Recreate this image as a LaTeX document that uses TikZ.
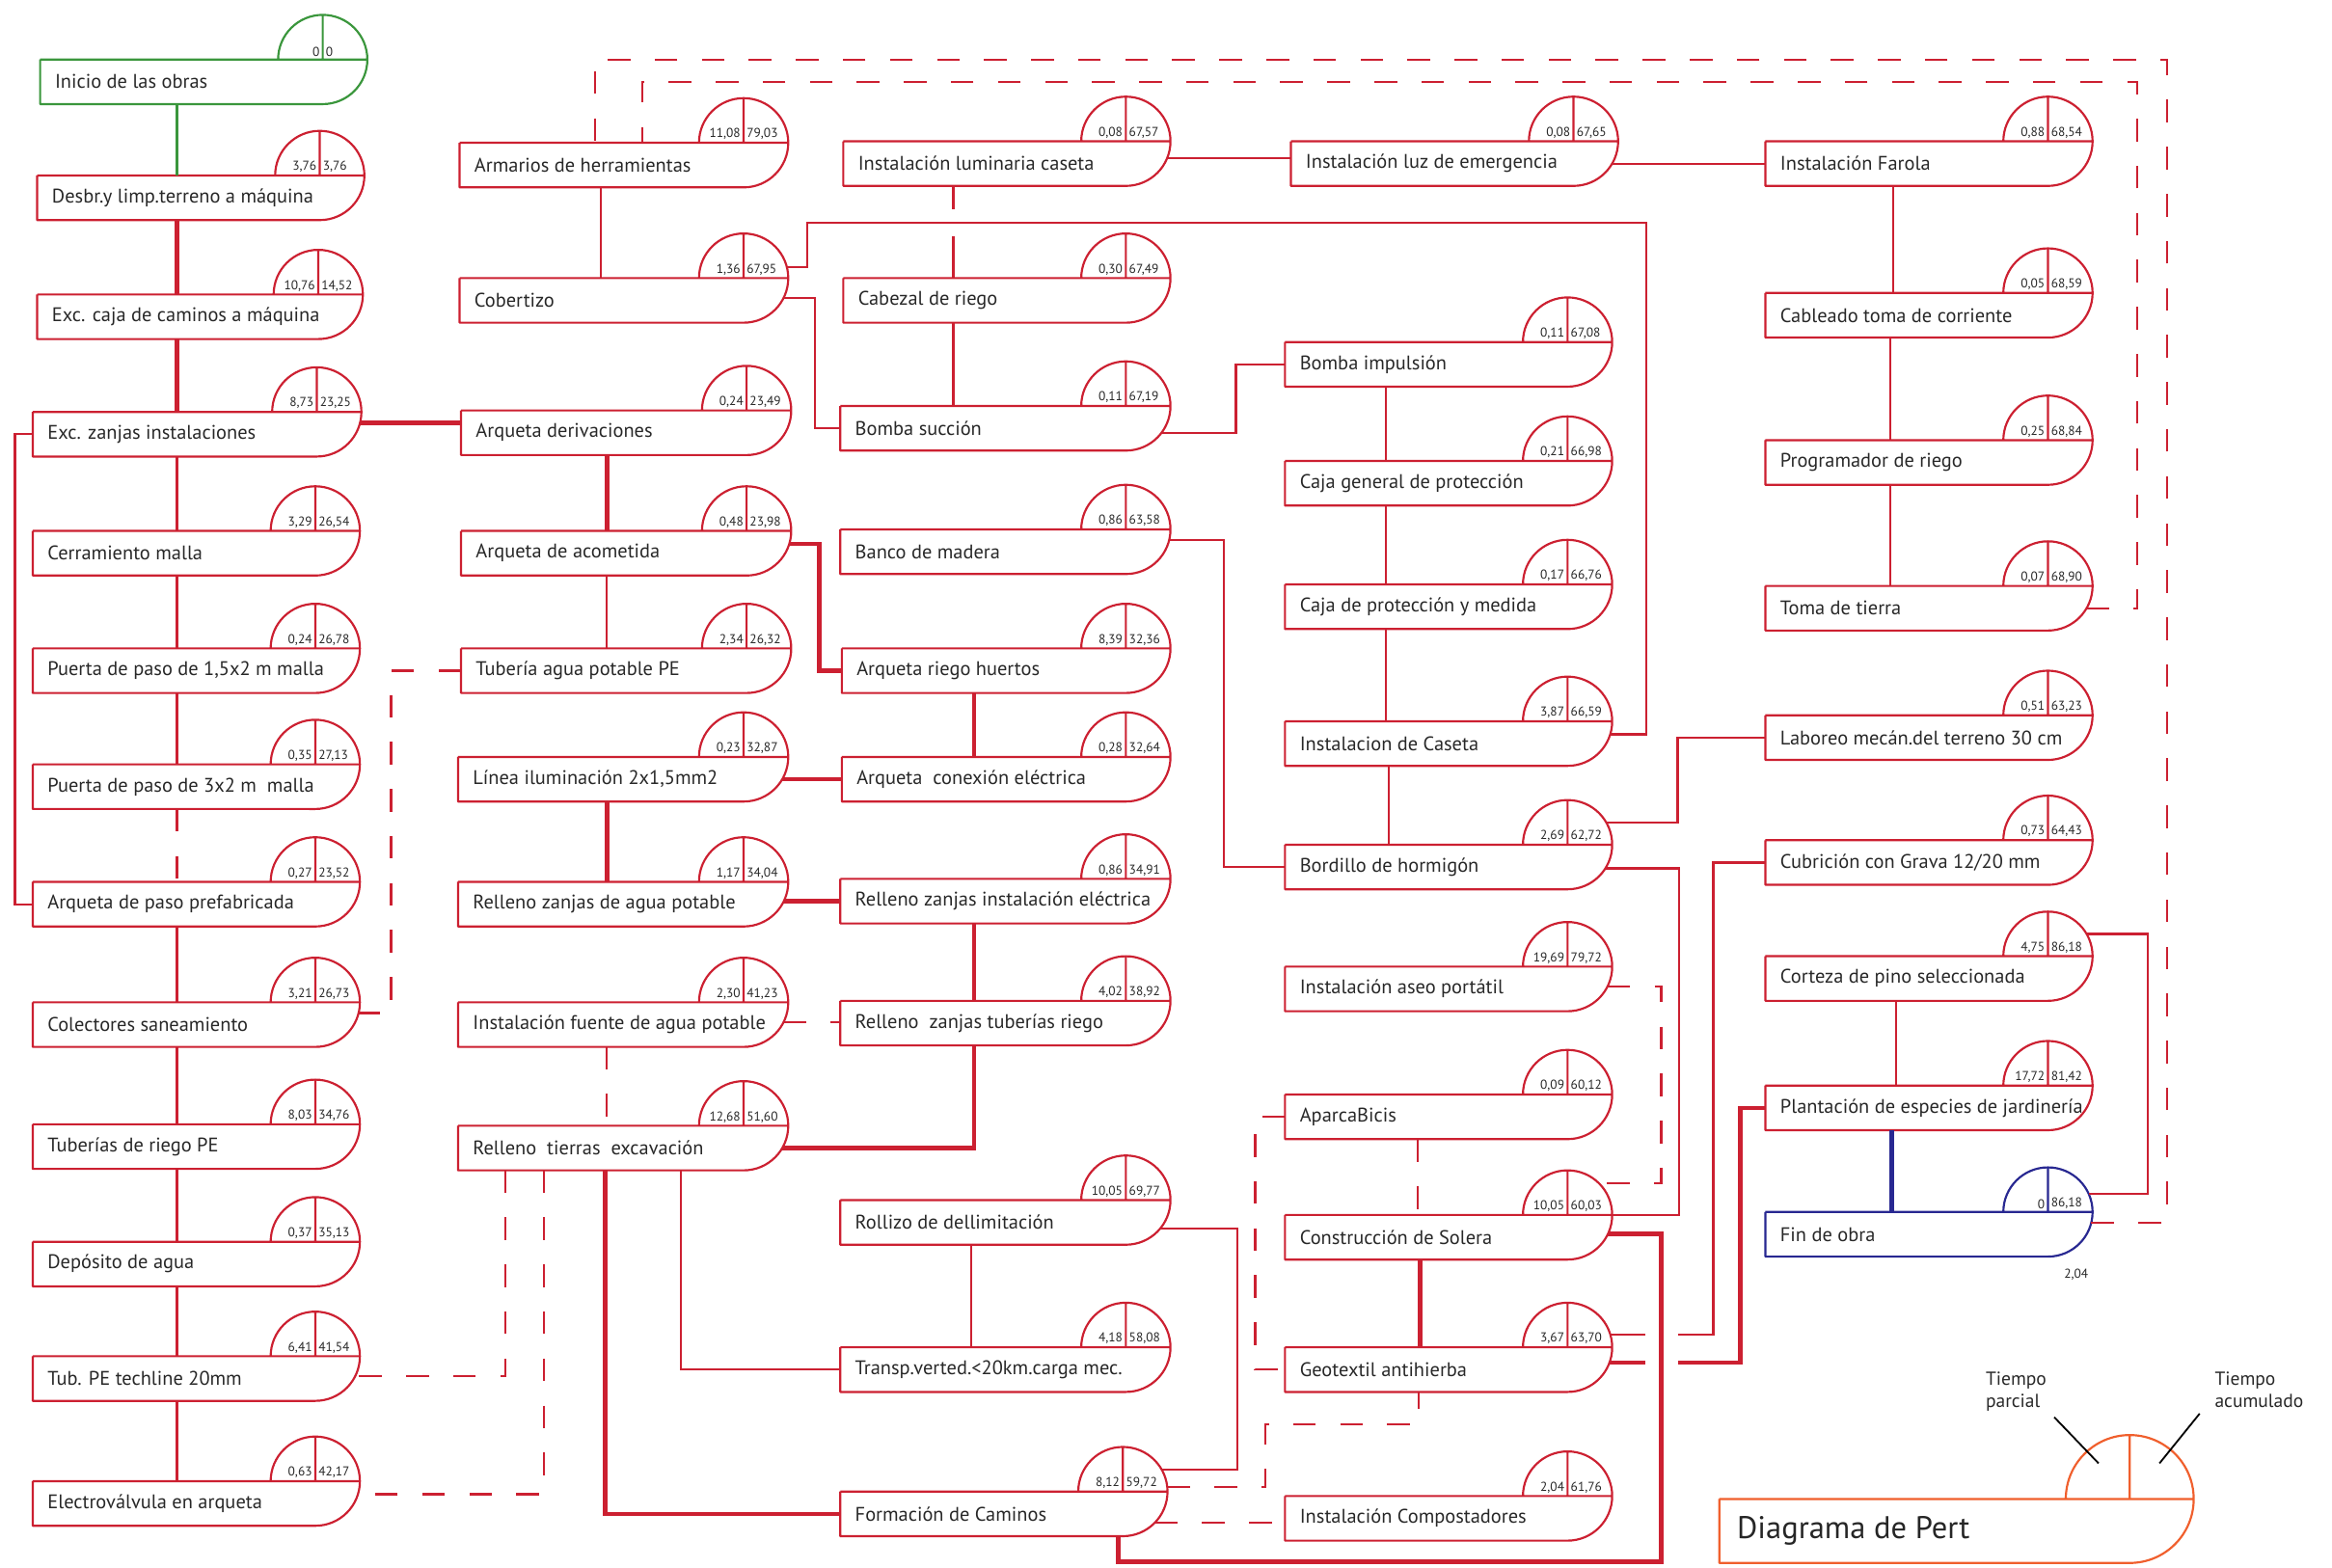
\documentclass[tikz,border=0pt]{standalone}
\usepackage{fontspec}
\setmainfont{PT Sans}
\usepackage{xcolor}
\usepackage{tikz}
\usetikzlibrary{positioning,calc}

\definecolor{rojo}{RGB}{204,32,49}
\definecolor{verde}{RGB}{58,150,60}
\definecolor{azul}{RGB}{40,40,145}
\definecolor{naranja}{RGB}{240,95,45}
\definecolor{texto}{RGB}{40,40,40}

% \tarea[color]{nombre}{izquierda}{arriba}{centro del circulo}{texto}{parcial}{acumulado}
\newcommand{\tarea}[8][rojo]{%
  \pgfmathsetlengthmacro{\anchocaja}{(#5-#3)*0.03cm-0.6cm}%
  \node[caja] (#2) at (#3,#4) {\makebox[\anchocaja][l]{#6}};
  \node[circulo] (#2-c) at (#5,#4) {};
  \draw[borde,#1] (#3,#4) -- (#5+30,#4) arc[start angle=0,end angle=180,radius=0.9cm]
    (#5,#4) -- (#5,#4-30)
    (#5+30,#4) arc[start angle=0,end angle=-90,radius=0.9cm] -- (#3,#4+30) -- (#3,#4);
  \node[num,anchor=south east] (#2-p) at (#5-1,#4-1) {#7};
  \node[num,anchor=south west] (#2-a) at (#5+1,#4-1) {#8};
}

\begin{document}
\begin{tikzpicture}[
  x=0.03cm,y=-0.03cm,
  caja/.style={rectangle,anchor=north west,minimum height=0.9cm,inner xsep=0.3cm,inner ysep=0pt,outer sep=0pt,text=texto,font=\fontsize{11.3}{13}\selectfont},
  circulo/.style={circle,minimum size=1.8cm,inner sep=0pt,outer sep=0pt},
  num/.style={inner sep=0.8pt,text=texto,font=\fontsize{7.4}{8}\selectfont},
  borde/.style={line width=1.2pt,line join=round},
  enlace/.style={rojo,line width=1.2pt},
  critico/.style={rojo,line width=2.6pt},
  ficticio/.style={rojo,line width=1.2pt,dash pattern=on 13pt off 14pt},
  nota/.style={align=left,inner sep=0pt,text=texto,font=\fontsize{10.8}{12.8}\selectfont},
  guia/.style={black,line width=1pt}]
\useasboundingbox (0,0) rectangle (1568,1054);

\tarea[verde]{ini}{27}{40}{217}{Inicio de las obras}{0}{0}
\tarea{desb}{25}{118}{215}{Desbr.y limp.terreno a máquina}{3,76}{3,76}
\tarea{caja}{25}{198}{214}{Exc. caja de caminos a máquina}{10,76}{14,52}
\tarea{zanj}{22}{277}{213}{Exc. zanjas instalaciones}{8,73}{23,25}
\tarea{cerr}{22}{357}{212}{Cerramiento malla}{3,29}{26,54}
\tarea{pue1}{22}{436}{212}{Puerta de paso de 1,5x2 m malla}{0,24}{26,78}
\tarea{pue2}{22}{514}{212}{Puerta de paso de 3x2 m~ malla}{0,35}{27,13}
\tarea{aqp}{22}{593}{212}{Arqueta de paso prefabricada}{0,27}{23,52}
\tarea{cole}{22}{674}{212}{Colectores saneamiento}{3,21}{26,73}
\tarea{tubr}{22}{756}{212}{Tuberías de riego PE}{8,03}{34,76}
\tarea{depo}{22}{835}{212}{Depósito de agua}{0,37}{35,13}
\tarea{tech}{22}{912}{212}{Tub. PE techline 20mm}{6,41}{41,54}
\tarea{elec}{22}{996}{212}{Electroválvula en arqueta}{0,63}{42,17}

\tarea{arma}{309}{96}{500}{Armarios de herramientas}{11,08}{79,03}
\tarea{cobe}{309}{187}{500}{Cobertizo}{1,36}{67,95}
\tarea{aqd}{310}{276}{502}{Arqueta derivaciones}{0,24}{23,49}
\tarea{aqa}{310}{357}{502}{Arqueta de acometida}{0,48}{23,98}
\tarea{tap}{310}{436}{502}{Tubería agua potable PE}{2,34}{26,32}
\tarea{lil}{308}{509}{500}{Línea iluminación 2x1,5mm2}{0,23}{32,87}
\tarea{rza}{308}{593}{500}{Relleno zanjas de agua potable}{1,17}{34,04}
\tarea{fue}{308}{674}{500}{Instalación fuente de agua potable}{2,30}{41,23}
\tarea{rte}{308}{757}{500}{Relleno~ tierras~ excavación}{12,68}{51,60}

\tarea{lum}{567}{95}{757}{Instalación luminaria caseta}{0,08}{67,57}
\tarea{cab}{567}{187}{757}{Cabezal de riego}{0,30}{67,49}
\tarea{bsu}{565}{273}{757}{Bomba succión}{0,11}{67,19}
\tarea{ban}{565}{356}{757}{Banco de madera}{0,86}{63,58}
\tarea{arh}{566}{436}{757}{Arqueta riego huertos}{8,39}{32,36}
\tarea{ace}{566}{509}{757}{Arqueta~ conexión eléctrica}{0,28}{32,64}
\tarea{rzi}{565}{591}{757}{Relleno zanjas instalación eléctrica}{0,86}{34,91}
\tarea{rzt}{565}{673}{757}{Relleno~ zanjas tuberías riego}{4,02}{38,92}
\tarea{rol}{565}{807}{757}{Rollizo de dellimitación}{10,05}{69,77}
\tarea{tra}{565}{906}{757}{Transp.verted.<20km.carga mec.}{4,18}{58,08}
\tarea{foc}{565}{1003}{755}{Formación de Caminos}{8,12}{59,72}

\tarea{luz}{868}{95}{1058}{Instalación luz de emergencia}{0,08}{67,65}
\tarea{bim}{864}{230}{1054}{Bomba impulsión}{0,11}{67,08}
\tarea{cgp}{864}{310}{1054}{Caja general de protección}{0,21}{66,98}
\tarea{cpm}{864}{393}{1054}{Caja de protección y medida}{0,17}{66,76}
\tarea{cas}{864}{485}{1054}{Instalacion de Caseta}{3,87}{66,59}
\tarea{bor}{864}{568}{1054}{Bordillo de hormigón}{2,69}{62,72}
\tarea{ase}{864}{650}{1054}{Instalación aseo portátil}{19,69}{79,72}
\tarea{apa}{864}{736}{1054}{AparcaBicis}{0,09}{60,12}
\tarea{sol}{864}{817}{1054}{Construcción de Solera}{10,05}{60,03}
\tarea{geo}{864}{906}{1054}{Geotextil antihierba}{3,67}{63,70}
\tarea{com}{864}{1006}{1054}{Instalación Compostadores}{2,04}{61,76}

\tarea{far}{1187}{95}{1377}{Instalación Farola}{0,88}{68,54}
\tarea{cat}{1187}{197}{1377}{Cableado toma de corriente}{0,05}{68,59}
\tarea{pro}{1187}{296}{1377}{Programador de riego}{0,25}{68,84}
\tarea{tom}{1187}{394}{1377}{Toma de tierra}{0,07}{68,90}
\tarea{lab}{1187}{481}{1377}{Laboreo mecán.del terreno 30 cm}{0,51}{63,23}
\tarea{cub}{1187}{565}{1377}{Cubrición con Grava 12/20 mm}{0,73}{64,43}
\tarea{cor}{1187}{643}{1377}{Corteza de pino seleccionada}{4,75}{86,18}
\tarea{pla}{1187}{730}{1377}{Plantación de especies de jardinería}{17,72}{81,42}
\tarea[azul]{fin}{1187}{815}{1377}{Fin de obra}{0}{86,18}
\node[num] (fin-nota) at (1396,857) {2,04};

% columna izquierda
\draw[verde,line width=2pt] (ini.south -| 119,0) -- (desb.north -| 119,0);
\draw[critico] (desb.south -| 119,0) -- (caja.north -| 119,0);
\draw[critico] (caja.south -| 119,0) -- (zanj.north -| 119,0);
\draw[enlace] (zanj.south -| 119,0) -- (cerr.north -| 119,0);
\draw[enlace] (cerr.south -| 119,0) -- (pue1.north -| 119,0);
\draw[enlace] (pue1.south -| 119,0) -- (pue2.north -| 119,0);
\draw[ficticio] (pue2.south -| 119,0) -- (aqp.north -| 119,0);
\draw[enlace] (aqp.south -| 119,0) -- (cole.north -| 119,0);
\draw[enlace] (cole.south -| 119,0) -- (tubr.north -| 119,0);
\draw[enlace] (tubr.south -| 119,0) -- (depo.north -| 119,0);
\draw[enlace] (depo.south -| 119,0) -- (tech.north -| 119,0);
\draw[enlace] (tech.south -| 119,0) -- (elec.north -| 119,0);
\draw[enlace] (zanj.west) -- ++(-12,0) |- (aqp.west);
\draw[critico] (zanj-c.-14) -- (zanj-c.-14 -| aqd.west);

% segunda columna
\draw[enlace] (arma.south -| 404,0) -- (cobe.north -| 404,0);
\draw[enlace] (cobe-c.14) -| (543,150) -- (1107,150) |- (cas-c.-17);
\draw[enlace] (cobe-c.-26) -- (548,0 |- cobe-c.-26) |- (bsu.west);
\draw[critico] (aqd.south -| 408,0) -- (aqa.north -| 408,0);
\draw[enlace] (aqa.south -| 408,0) -- (tap.north -| 408,0);
\draw[critico] (aqa-c.-17) -- (551,0 |- aqa-c.-17) |- (arh.west);
\draw[ficticio] (tap.west) -- (263,0 |- tap.west) |- (cole-c.-14);
\draw[critico] (lil-c.-30) -- (lil-c.-30 -| ace.west);
\draw[critico] (lil.south -| 408,0) -- (rza.north -| 408,0);
\draw[critico] (rza-c.-26) -- (rza-c.-26 -| rzi.west);
\draw[ficticio] (fue-c.-26) -- (fue-c.-26 -| rzt.west);
\draw[ficticio] (fue.south -| 408,0) -- (rte.north -| 408,0);
\draw[critico] (rte-c.-30) -| (rzt.south -| 655,0);
\draw[critico] (rte.south -| 407,0) |- (foc.west);
\draw[enlace] (rte.south -| 458,0) |- (tra.west);
\draw[ficticio] (rte.south -| 340,0) |- (tech-c.-26);
\draw[ficticio] (rte.south -| 366,0) |- (elec-c.-17);

% tercera columna
\draw[enlace] (lum.south -| 641,0) -- (641,141) (641,159) -- (cab.north -| 641,0);
\draw[enlace] (lum-c.-22) -- (lum-c.-22 -| luz.west);
\draw[enlace] (cab.south -| 641,0) -- (bsu.north -| 641,0);
\draw[enlace] (bsu-c.-37) -- (831,0 |- bsu-c.-37) |- (bim.west);
\draw[enlace] (ban-c.-14) -- (823,0 |- ban-c.-14) |- (bor.west);
\draw[critico] (arh.south -| 655,0) -- (ace.north -| 655,0);
\draw[critico] (rzi.south -| 655,0) -- (rzt.north -| 655,0);
\draw[enlace] (rol.south -| 653,0) -- (tra.north -| 653,0);
\draw[enlace] (rol-c.-39) -- (832,0 |- rol-c.-39) |- (foc-c.30);
\draw[ficticio] (foc-c.6) -- (851,0 |- foc-c.6) -- (851,958) -| (geo.south -| 954,0);
\draw[ficticio] (foc-c.-44) -- (foc-c.-44 -| com.west);
\draw[critico] (foc.south -| 752,0) |- (1117,1050) |- (sol-c.-25);

% cuarta columna
\draw[enlace] (luz-c.-30) -- (luz-c.-30 -| far.west);
\draw[enlace] (bim.south -| 932,0) -- (cgp.north -| 932,0);
\draw[enlace] (cgp.south -| 932,0) -- (cpm.north -| 932,0);
\draw[enlace] (cpm.south -| 932,0) -- (cas.north -| 932,0);
\draw[enlace] (cas.south -| 934,0) -- (bor.north -| 934,0);
\draw[enlace] (bor-c.30) -- (1128,0 |- bor-c.30) |- (lab.west);
\draw[enlace] (bor-c.-32) -- (1129,0 |- bor-c.-32) |- (sol-c.east);
\draw[ficticio] (ase-c.-26) -- (1117,0 |- ase-c.-26) |- (sol-c.45);
\draw[ficticio] (apa.south -| 953,0) -- (sol.north -| 953,0);
\draw[ficticio] (apa.west) -- (844,0 |- apa.west) |- (geo.west);
\draw[critico] (sol.south -| 955,0) -- (geo.north -| 955,0);
\draw[enlace] (geo-c.17) -- (1106,0 |- geo-c.17) (1128,0 |- geo-c.17) -- (1152,0 |- geo-c.17) |- (cub.west);
\draw[critico] (geo-c.-20) -- (1106,0 |- geo-c.-20) (1128,0 |- geo-c.-20) -- (1170,0 |- geo-c.-20) |- (pla.west);

% columna derecha
\draw[enlace] (far.south -| 1273,0) -- (cat.north -| 1273,0);
\draw[enlace] (cat.south -| 1271,0) -- (pro.north -| 1271,0);
\draw[enlace] (pro.south -| 1271,0) -- (tom.north -| 1271,0);
\draw[enlace] (cor.south -| 1275,0) -- (pla.north -| 1275,0);
\draw[azul,line width=2.6pt] (pla.south -| 1272,0) -- (fin.north -| 1272,0);
\draw[enlace] (cor-c.30) -- (1444,0 |- cor-c.30) |- (fin-c.24);
\draw[ficticio] (fin-c.-14) -- (1457,0 |- fin-c.-14) |- (400,40) -- (arma.north -| 400,0);
\draw[ficticio] (tom-c.-30) -- (1437,0 |- tom-c.-30) |- (432,55) -- (arma.north -| 432,0);

% leyenda
\node[caja,minimum width=8.28cm,minimum height=1.29cm,inner xsep=0.36cm,font=\fontsize{18}{20}\selectfont,text=black!85] (ley) at (1156,1008) {\makebox[7.56cm][l]{Diagrama de Pert}};
\node[circulo,minimum size=2.58cm] (ley-c) at (1432,1008) {};
\draw[borde,naranja] (1156,1008) -- (1475,1008) arc[start angle=0,end angle=180,radius=1.29cm]
  (1432,1008) -- (1432,965)
  (1475,1008) arc[start angle=0,end angle=-90,radius=1.29cm] -- (1156,1051) -- (1156,1008);
\node[nota,anchor=north west] (tpar) at (1335,922) {Tiempo\\parcial};
\node[nota,anchor=north west] (tacu) at (1489,922) {Tiempo\\acumulado};
\coordinate (par-fin) at (1411,984);
\coordinate (acu-fin) at (1452,984);
\draw[guia] (tpar.south east) ++(5,4) -- (par-fin);
\draw[guia] (tacu.south west) ++(-10,4) -- (acu-fin);
\end{tikzpicture}
\end{document}
